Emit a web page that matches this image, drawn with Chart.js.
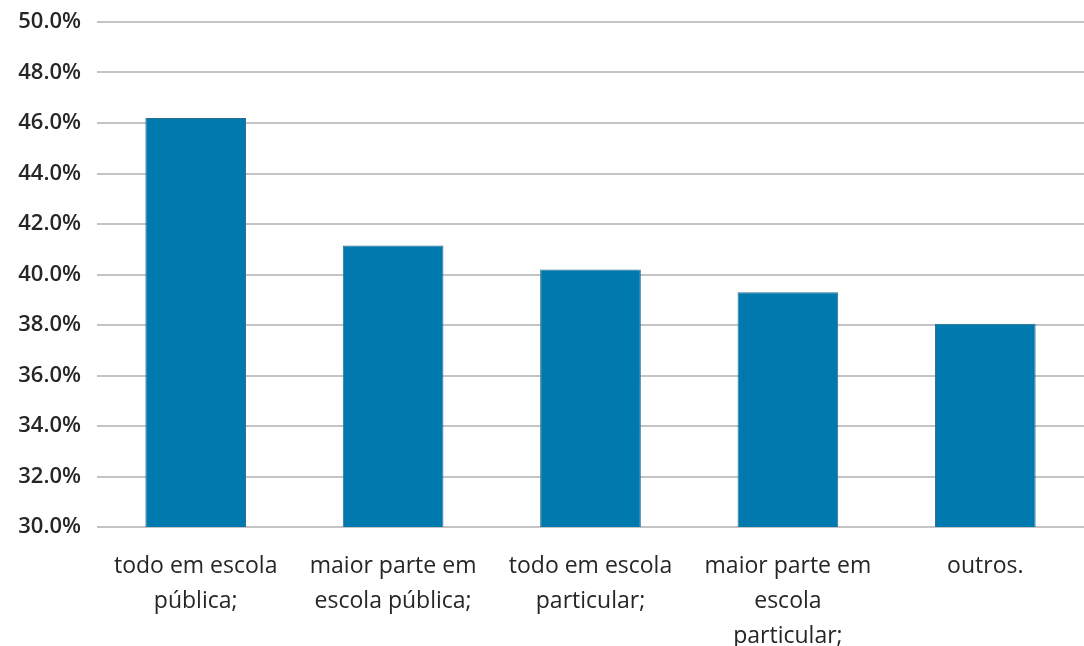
<!DOCTYPE html>
<html>
<head>
<meta charset="utf-8">
<script src="https://cdn.jsdelivr.net/npm/chart.js@4"></script>
<style>
    html, body { margin: 0; padding: 0; background: #fff; }
    #wrap { width: 1084px; height: 646px; position: relative; }
</style>
</head>
<body>
<div id="wrap"><canvas id="bar-chart"></canvas></div>
<script>
// categories (multi-line, as they wrap in the original)
const categories = [
    ['todo em escola', 'pública;'],
    ['maior parte em', 'escola pública;'],
    ['todo em escola', 'particular;'],
    ['maior parte em', 'escola', 'particular;'],
    ['outros.']
];
// percent values
const values = [46.2, 41.15, 40.2, 39.3, 38.05];
const yMin = 30;
const yMax = 50;
const yStep = 2;

const barColor = '#0079AE';
const gridColor = '#C4C4C4';
const textColor = '#262626';

let chart = new Chart(document.getElementById('bar-chart'), {
    type: 'bar',
    data: {
        labels: categories,
        datasets: [
            {
                label: 'valores',
                data: values,
                backgroundColor: barColor,
                borderColor: '#2b6d8c',
                borderWidth: 1,
                categoryPercentage: 1,
                barPercentage: 0.51
            }
        ]
    },
    options: {
        responsive: true,
        maintainAspectRatio: false,
        animation: false,
        layout: {
            padding: { top: 22, right: 0, left: 0, bottom: 0 }
        },
        plugins: {
            legend: { display: false },
            tooltip: { enabled: false }
        },
        scales: {
            x: {
                grid: { display: false },
                border: { display: false },
                ticks: {
                    color: textColor,
                    font: { family: 'Open Sans', size: 23, weight: 500, lineHeight: 1.52 },
                    padding: 14,
                    maxRotation: 0,
                    autoSkip: false
                },
                afterFit: function (scale) {
                    scale.height = 119;
                    scale.paddingLeft = 0;
                    scale.paddingRight = 0;
                }
            },
            y: {
                min: yMin,
                max: yMax,
                border: { display: false },
                grid: {
                    color: gridColor,
                    lineWidth: 2,
                    drawTicks: false
                },
                ticks: {
                    stepSize: yStep,
                    color: textColor,
                    font: { family: 'Open Sans', size: 22, weight: 600 },
                    padding: 16,
                    callback: function (value) {
                        return value.toFixed(1) + '%';
                    }
                },
                afterFit: function (scale) {
                    scale.width = 97;
                    scale.paddingTop = 0;
                    scale.paddingBottom = 0;
                }
            }
        }
    }
});
</script>
</body>
</html>
